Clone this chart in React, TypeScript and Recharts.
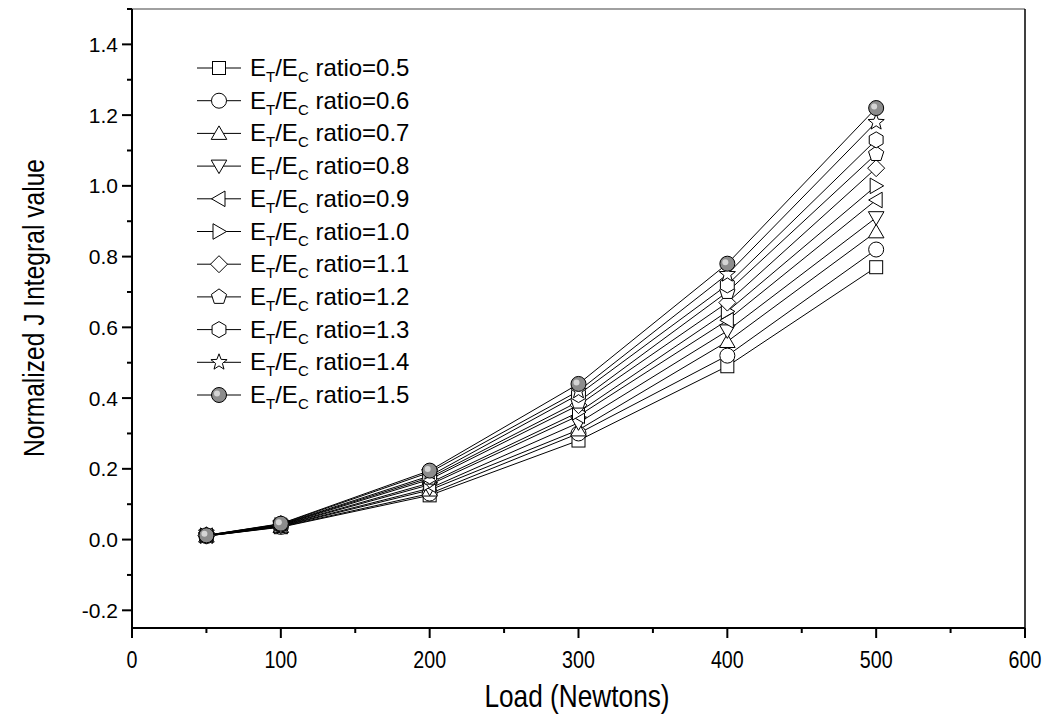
import { LineChart, Line, XAxis, YAxis, ReferenceLine } from "recharts";

const loads = [50, 100, 200, 300, 400, 500];
const ratioLabels = ["0.5", "0.6", "0.7", "0.8", "0.9", "1.0", "1.1", "1.2", "1.3", "1.4", "1.5"];

const r05 = [0.010, 0.035, 0.125, 0.28, 0.49, 0.77];
const r06 = [0.010, 0.036, 0.13, 0.30, 0.52, 0.82];
const r07 = [0.010, 0.037, 0.14, 0.31, 0.56, 0.87];
const r08 = [0.010, 0.038, 0.145, 0.33, 0.59, 0.91];
const r09 = [0.011, 0.039, 0.155, 0.35, 0.62, 0.96];
const r10 = [0.011, 0.040, 0.16, 0.36, 0.645, 1.0];
const r11 = [0.011, 0.041, 0.17, 0.38, 0.67, 1.05];
const r12 = [0.011, 0.042, 0.175, 0.39, 0.70, 1.09];
const r13 = [0.012, 0.043, 0.18, 0.41, 0.72, 1.13];
const r14 = [0.012, 0.044, 0.19, 0.42, 0.75, 1.18];
const r15 = [0.012, 0.045, 0.195, 0.44, 0.78, 1.22];

const seriesValues = [r05, r06, r07, r08, r09, r10, r11, r12, r13, r14, r15];

const xTicks = [0, 50, 100, 150, 200, 250, 300, 350, 400, 450, 500, 550, 600];
const yTicks = [-0.2, -0.1, 0, 0.1, 0.2, 0.3, 0.4, 0.5, 0.6, 0.7, 0.8, 0.9, 1.0, 1.1, 1.2, 1.3, 1.4, 1.5];

const FONT = "'Liberation Sans', Arial, sans-serif";
const NARROW = 0.82; // squeeze Arial to look like Arial Narrow

// one row per load, one key per ratio
const data = loads.map((load, i) => {
  const row: Record<string, number> = { load };
  ratioLabels.forEach((r, k) => {
    row["r" + r] = seriesValues[k][i];
  });
  return row;
});

const polygon = (n: number, r: number, rot: number) => {
  const pts: string[] = [];
  for (let i = 0; i < n; i++) {
    const a = rot + (i * 2 * Math.PI) / n;
    pts.push(`${(r * Math.cos(a)).toFixed(2)},${(r * Math.sin(a)).toFixed(2)}`);
  }
  return pts.join(" ");
};

const starPoints = () => {
  const pts: string[] = [];
  for (let i = 0; i < 10; i++) {
    const r = i % 2 === 0 ? 8.5 : 3.6;
    const a = -Math.PI / 2 + (i * Math.PI) / 5;
    pts.push(`${(r * Math.cos(a)).toFixed(2)},${(r * Math.sin(a)).toFixed(2)}`);
  }
  return pts.join(" ");
};

const Marker = ({ kind, cx, cy }: { kind: number; cx: number; cy: number }) => {
  const s = { fill: "#fff", stroke: "#000", strokeWidth: 1 };
  let shape;
  switch (kind) {
    case 0:
      shape = <rect x={-6.5} y={-6.5} width={13} height={13} {...s} />;
      break;
    case 1:
      shape = <circle r={7.5} {...s} />;
      break;
    case 2:
      shape = <polygon points={polygon(3, 9, -Math.PI / 2)} {...s} transform="translate(0,1.5)" />;
      break;
    case 3:
      shape = <polygon points={polygon(3, 9, Math.PI / 2)} {...s} transform="translate(0,-1.5)" />;
      break;
    case 4:
      shape = <polygon points={polygon(3, 9, Math.PI)} {...s} transform="translate(1.5,0)" />;
      break;
    case 5:
      shape = <polygon points={polygon(3, 9, 0)} {...s} transform="translate(-1.5,0)" />;
      break;
    case 6:
      shape = <polygon points={polygon(4, 8.5, -Math.PI / 2)} {...s} />;
      break;
    case 7:
      shape = <polygon points={polygon(5, 8, -Math.PI / 2)} {...s} />;
      break;
    case 8:
      shape = <polygon points={polygon(6, 8, -Math.PI / 2)} {...s} />;
      break;
    case 9:
      shape = <polygon points={starPoints()} {...s} />;
      break;
    default:
      shape = (
        <g>
          <circle r={7.5} fill="#8c8c8c" stroke="#000" strokeWidth={1} />
          <circle cx={-2} cy={-1.5} r={3} fill="#d4d4d4" />
        </g>
      );
  }
  return <g transform={`translate(${cx},${cy})`}>{shape}</g>;
};

const fmtY = (v: number) => v.toFixed(1);

const YTick = (props: any) => {
  const { x, y, payload } = props;
  const v = payload.value;
  const t = Math.round(v * 10);
  const major = t % 2 === 0;
  return (
    <g>
      <line x1={x - (major ? 10 : 5)} x2={x} y1={y} y2={y} stroke="#000" strokeWidth={2} />
      {major && (
        <text x={x - 14} y={y} dy={7.5} textAnchor="end" fontSize={21} fontFamily={FONT} fill="#000">
          {fmtY(v)}
        </text>
      )}
    </g>
  );
};

const XTick = (props: any) => {
  const { x, y, payload } = props;
  const v = payload.value;
  const major = v % 100 === 0;
  return (
    <g>
      <line x1={x} x2={x} y1={y} y2={y + (major ? 10 : 5)} stroke="#000" strokeWidth={2} />
      {major && (
        <text
          transform={`translate(${x},${y + 40}) scale(${NARROW},1)`}
          textAnchor="middle"
          fontSize={24}
          fontFamily={FONT}
          fill="#000"
        >
          {v}
        </text>
      )}
    </g>
  );
};

const LegendBox = () => (
  <svg width={280} height={370} style={{ display: "block" }}>
    {ratioLabels.map((r, k) => {
      const cy = 18 + k * 32.7;
      return (
        <g key={r}>
          <line x1={7} x2={51} y1={cy} y2={cy} stroke="#000" strokeWidth={1} />
          <Marker kind={k} cx={29} cy={cy} />
          <text x={60} y={cy + 8} fontSize={24} fontFamily={FONT} fill="#000">
            E<tspan dy={6} fontSize={15}>T</tspan>
            <tspan dy={-6}>/E</tspan>
            <tspan dy={6} fontSize={15}>C</tspan>
            <tspan dy={-6}> ratio={r}</tspan>
          </text>
        </g>
      );
    })}
  </svg>
);

export default function App() {
  return (
    <div style={{ position: "absolute", left: 0, top: 0, width: 1048, height: 718, background: "#fff" }}>
      <LineChart width={1048} height={718} data={data} margin={{ top: 9, right: 23, bottom: 0, left: 0 }}>
        <XAxis
          dataKey="load"
          type="number"
          domain={[0, 600]}
          ticks={xTicks}
          interval={0}
          height={90}
          tickSize={0}
          tickMargin={0}
          tickLine={false}
          axisLine={{ stroke: "#000", strokeWidth: 2 }}
          tick={<XTick />}
          allowDataOverflow
          label={() => (
            <text
              transform={`translate(577,707) scale(${NARROW},1)`}
              textAnchor="middle"
              fontSize={32}
              fontFamily={FONT}
              fill="#000"
            >
              Load (Newtons)
            </text>
          )}
        />
        <YAxis
          type="number"
          domain={[-0.25, 1.5]}
          ticks={yTicks}
          interval={0}
          width={132}
          tickSize={0}
          tickMargin={0}
          tickLine={false}
          axisLine={{ stroke: "#000", strokeWidth: 2 }}
          tick={<YTick />}
          allowDataOverflow
          label={() => (
            <text
              transform={`translate(44,308) rotate(-90) scale(${NARROW},1)`}
              textAnchor="middle"
              fontSize={30}
              fontFamily={FONT}
              fill="#000"
            >
              Normalized J Integral value
            </text>
          )}
        />
        <ReferenceLine y={1.5} stroke="#808080" strokeWidth={1.5} />
        <ReferenceLine x={600} stroke="#000" strokeWidth={1.5} />
        {ratioLabels.map((r, k) => (
          <Line
            key={r}
            dataKey={"r" + r}
            type="linear"
            stroke="#000"
            strokeWidth={1}
            isAnimationActive={false}
            dot={(p: any) => <Marker key={`${r}-${p.index}`} kind={k} cx={p.cx} cy={p.cy} />}
            activeDot={false}
          />
        ))}
      </LineChart>
      <div style={{ position: "absolute", left: 190, top: 50 }}>
        <LegendBox />
      </div>
    </div>
  );
}
